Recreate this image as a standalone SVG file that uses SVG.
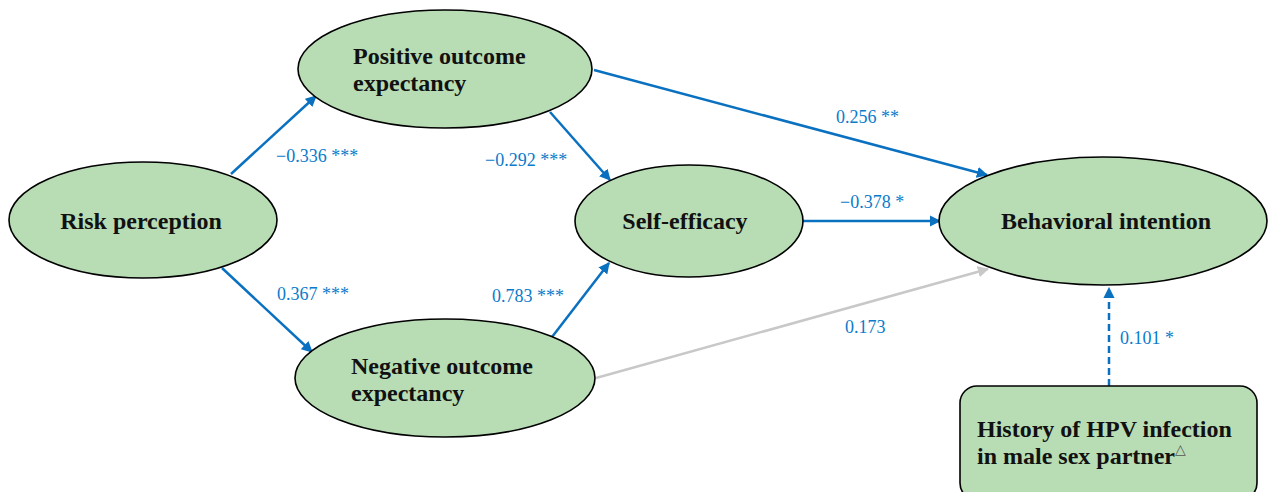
<svg xmlns="http://www.w3.org/2000/svg" width="1268" height="492" viewBox="0 0 1268 492">
<style>
.node{fill:#B8DDB5;stroke:#000;stroke-width:1.6}
.nt{font-family:"Liberation Serif",serif;font-weight:bold;font-size:24px;fill:#111}
.lb{font-family:"Liberation Serif",serif;font-size:18px;fill:#0A7BCB}
.c{stroke:#0A70C0;stroke-width:2.5;fill:none}
.g{stroke:#C8C8C8;stroke-width:2.5;fill:none}
</style>
<defs>
<marker id="ab" viewBox="0 0 10 10" refX="9" refY="5" markerWidth="4.5" markerHeight="4.5" orient="auto" markerUnits="strokeWidth"><path d="M0,0 L10,5 L0,10 z" fill="#0A70C0"/></marker>
<marker id="ag" viewBox="0 0 10 10" refX="9" refY="5" markerWidth="4.5" markerHeight="4.5" orient="auto" markerUnits="strokeWidth"><path d="M0,0 L10,5 L0,10 z" fill="#C8C8C8"/></marker>
</defs>
<rect width="1268" height="492" fill="#fff"/>
<g id="connectors">
<line class="c" x1="231" y1="174" x2="316" y2="96" marker-end="url(#ab)"/>
<line class="c" x1="550" y1="112" x2="610" y2="180" marker-end="url(#ab)"/>
<line class="c" x1="594" y1="70" x2="987" y2="175" marker-end="url(#ab)"/>
<line class="c" x1="802" y1="221" x2="940" y2="221" marker-end="url(#ab)"/>
<line class="c" x1="222" y1="268" x2="312" y2="352" marker-end="url(#ab)"/>
<line class="c" x1="552" y1="337" x2="609" y2="263" marker-end="url(#ab)"/>
<line class="g" x1="596" y1="378" x2="988" y2="269" marker-end="url(#ag)"/>
<line class="c" x1="1109" y1="386" x2="1109" y2="288" stroke-dasharray="7,4" marker-end="url(#ab)"/>
</g>
<g id="labels">
<text class="lb" x="276" y="162">−0.336 ***</text>
<text class="lb" x="485" y="166">−0.292 ***</text>
<text class="lb" x="836" y="123">0.256 **</text>
<text class="lb" x="840" y="208">−0.378 *</text>
<text class="lb" x="277" y="300">0.367 ***</text>
<text class="lb" x="492" y="302">0.783 ***</text>
<text class="lb" x="845" y="333">0.173</text>
<text class="lb" x="1120" y="344">0.101 *</text>
</g>
<g id="risk">
<ellipse class="node" cx="143" cy="220" rx="134" ry="58"/>
<text class="nt" x="141" y="229" text-anchor="middle">Risk perception</text>
</g>
<g id="positive">
<ellipse class="node" cx="445" cy="69" rx="147" ry="59"/>
<text class="nt" x="353" y="64">Positive outcome</text>
<text class="nt" x="353" y="91">expectancy</text>
</g>
<g id="self">
<ellipse class="node" cx="689" cy="221" rx="114" ry="56"/>
<text class="nt" x="685" y="229" text-anchor="middle">Self-efficacy</text>
</g>
<g id="negative">
<ellipse class="node" cx="445" cy="378" rx="150" ry="59"/>
<text class="nt" x="351" y="374">Negative outcome</text>
<text class="nt" x="351" y="401">expectancy</text>
</g>
<g id="behavioral">
<ellipse class="node" cx="1103" cy="221" rx="164" ry="64"/>
<text class="nt" x="1106" y="229" text-anchor="middle">Behavioral intention</text>
</g>
<g id="history">
<rect class="node" x="960" y="386" width="297" height="114" rx="17"/>
<text class="nt" x="977" y="437">History of HPV infection</text>
<text class="nt" x="977" y="464">in male sex partner<tspan font-size="14" font-weight="normal" dy="-10" fill="#555">△</tspan></text>
</g>
</svg>
